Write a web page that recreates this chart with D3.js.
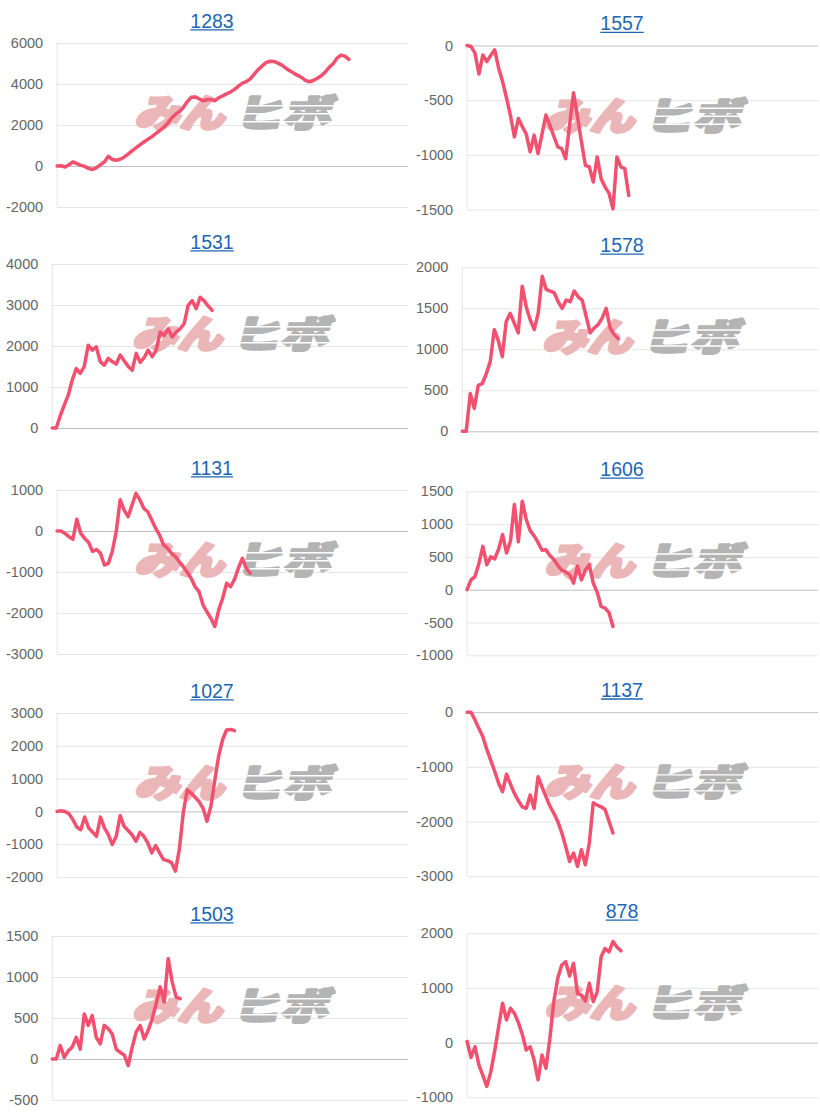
<!DOCTYPE html>
<html>
<head>
<meta charset="utf-8">
<script src="https://cdn.jsdelivr.net/npm/d3@7"></script>
<style>
  body { margin: 0; background: #fff; }
  svg { display: block; font-family: Arial, "Liberation Sans", sans-serif; }
</style>
</head>
<body>
<script>
const width = 820;
const height = 1115;

// Chart titles (strategy ids)
const titles = ['1283', '1557', '1531', '1578', '1131', '1606', '1027', '1137', '1503', '878'];

// Y tick labels per chart
const ticks1283 = [-2000, 0, 2000, 4000, 6000];
const ticks1557 = [-1500, -1000, -500, 0];
const ticks1531 = [0, 1000, 2000, 3000, 4000];
const ticks1578 = [0, 500, 1000, 1500, 2000];
const ticks1131 = [-3000, -2000, -1000, 0, 1000];
const ticks1606 = [-1000, -500, 0, 500, 1000, 1500];
const ticks1027 = [-2000, -1000, 0, 1000, 2000, 3000];
const ticks1137 = [-3000, -2000, -1000, 0];
const ticks1503 = [-500, 0, 500, 1000, 1500];
const ticks878 = [-1000, 0, 1000, 2000];

// Cumulative values, one point per day
const s1283 = [0, 10, -50, 60, 200, 120, 30, -20, -120, -170, -80, 60, 200, 470, 320, 280, 330, 430, 580, 740,
  880, 1030, 1170, 1300, 1420, 1580, 1720, 1880, 2080, 2330, 2520, 2650, 2850, 3130, 3350, 3370, 3280, 3180, 3230, 3250,
  3180, 3330, 3420, 3520, 3610, 3740, 3900, 4040, 4120, 4250, 4480, 4700, 4880, 5040, 5110, 5100, 5020, 4920, 4770, 4650,
  4530, 4420, 4320, 4180, 4110, 4170, 4280, 4400, 4580, 4810, 4990, 5260, 5410, 5360, 5200];
const s1557 = [0, -9, -70, -260, -86, -147, -90, -40, -208, -330, -480, -640, -836, -667, -740, -810, -973, -820, -989, -810,
  -637, -730, -830, -927, -943, -1035, -730, -432, -652, -880, -1096, -1111, -1249, -1019, -1218, -1295, -1350, -1494, -1019, -1111,
  -1127, -1371];
const s1531 = [0, 0, 300, 560, 800, 1170, 1450, 1330, 1500, 2020, 1900, 1980, 1620, 1535, 1700, 1620, 1560, 1780, 1640, 1500,
  1410, 1820, 1600, 1720, 1900, 1740, 1900, 2340, 2260, 2420, 2220, 2340, 2420, 2545, 2990, 3110, 2910, 3190, 3100, 2980,
  2870];
const s1578 = [0, 0, 460, 280, 560, 580, 700, 850, 1240, 1110, 910, 1340, 1440, 1320, 1200, 1770, 1520, 1360, 1240, 1440,
  1890, 1730, 1710, 1690, 1580, 1500, 1600, 1580, 1710, 1640, 1600, 1400, 1200, 1260, 1300, 1380, 1500, 1260, 1180, 1130];
const s1131 = [0, 0, -60, -140, -200, 285, -60, -180, -280, -500, -450, -545, -830, -790, -500, -15, 760, 510, 350, 630,
  920, 760, 550, 470, 270, 65, -100, -340, -420, -545, -625, -750, -870, -1000, -1155, -1360, -1480, -1800, -1970, -2130,
  -2330, -1925, -1640, -1275, -1360, -1180, -900, -665, -910, -1030];
const s1606 = [0, 150, 200, 400, 660, 380, 500, 470, 620, 840, 560, 740, 1300, 730, 1350, 1070, 900, 820, 720, 600,
  610, 520, 460, 370, 300, 270, 230, 100, 360, 150, 300, 380, 100, -40, -255, -280, -350, -560];
const s1027 = [0, 20, 0, -70, -250, -475, -560, -170, -500, -630, -760, -170, -500, -710, -1010, -760, -130, -455, -580, -710,
  -910, -640, -760, -960, -1265, -1040, -1265, -1470, -1500, -1560, -1820, -1165, -50, 660, 560, 430, 300, 100, -300, 150,
  960, 1700, 2200, 2480, 2500, 2460];
const s1137 = [0, 0, -140, -300, -450, -680, -880, -1080, -1300, -1455, -1135, -1315, -1485, -1620, -1730, -1760, -1515, -1760, -1180, -1365,
  -1545, -1715, -1850, -2000, -2200, -2455, -2730, -2575, -2820, -2515, -2790, -2395, -1655, -1700, -1730, -1780, -2000, -2210];
const s1503 = [0, 0, 165, 20, 100, 145, 265, 120, 550, 410, 530, 265, 185, 410, 370, 305, 120, 80, 50, -80,
  145, 330, 410, 245, 350, 490, 675, 880, 695, 1225, 940, 755, 735];
const s878 = [20, -270, -75, -410, -600, -800, -540, -150, 290, 720, 415, 630, 535, 370, 150, -135, -75, -320, -680, -225,
  -470, 80, 750, 1180, 1420, 1480, 1220, 1450, 900, 870, 760, 1085, 750, 930, 1570, 1720, 1660, 1850, 1750, 1680];

// Number of days on the x axis (shared by all charts)
const dayCount = 90;

const tickSets = [ticks1283, ticks1557, ticks1531, ticks1578, ticks1131, ticks1606, ticks1027, ticks1137, ticks1503, ticks878];
const seriesSets = [s1283, s1557, s1531, s1578, s1131, s1606, s1027, s1137, s1503, s878];

// Layout
const colWidth = 410;
const rowTopsLeft = [0, 221, 447, 670, 893];
const rowTopsRight = [2.5, 224.3, 448.3, 669.2, 890.3];
const plotTopOff = 43;
const plotBottomOff = 207;
const plotRightOff = 408;
const lineColor = '#f2506f';
const tickFont = 14.5;

const svg = d3.select('body')
    .append('svg')
    .attr('width', width)
    .attr('height', height);

// measure tick label width
const measurer = svg.append('text').attr('font-size', tickFont);
function textWidth(s) {
    measurer.text(s);
    return measurer.node().getComputedTextLength();
}

titles.forEach((title, i) => {
    const col = i % 2;
    const row = Math.floor(i / 2);
    const x0 = col * colWidth;
    const top = (col ? rowTopsRight : rowTopsLeft)[row];
    const ticks = tickSets[i];
    const values = seriesSets[i];

    const g = svg.append('g');

    const labelW = d3.max(ticks, t => textWidth(String(t)));
    const left = x0 + 6 + labelW + 14;
    const right = x0 + plotRightOff;

    const y = d3.scaleLinear()
        .domain(d3.extent(ticks))
        .range([top + plotBottomOff, top + plotTopOff]);
    const x = d3.scaleLinear()
        .domain([0, dayCount - 1])
        .range([left, right]);

    // Title (link style)
    const tx = x0 + 212;
    const titleText = g.append('text')
        .attr('x', tx)
        .attr('y', top + 27.5)
        .attr('text-anchor', 'middle')
        .attr('font-size', 19.5)
        .attr('fill', '#1c66b2')
        .text(title);
    const tw = titleText.node().getComputedTextLength();
    g.append('line')
        .attr('x1', tx - tw / 2).attr('x2', tx + tw / 2)
        .attr('y1', top + 29.8).attr('y2', top + 29.8)
        .attr('stroke', '#1c66b2')
        .attr('stroke-width', 1.3);

    // Y axis with gridlines
    const axis = g.append('g')
        .attr('transform', `translate(${left},0)`)
        .call(d3.axisLeft(y)
            .tickValues(ticks)
            .tickSize(-(right - left))
            .tickPadding(14)
            .tickFormat(d => String(d)));
    axis.select('.domain').remove();
    axis.selectAll('.tick line')
        .attr('stroke', d => d === 0 ? 'rgba(0,0,0,0.25)' : 'rgba(0,0,0,0.1)')
        .attr('x1', 0);
    axis.selectAll('.tick text')
        .attr('font-size', tickFont)
        .attr('font-family', 'Arial, "Liberation Sans", sans-serif')
        .attr('fill', '#666');
    g.append('line')
        .attr('x1', left).attr('x2', left)
        .attr('y1', top + plotTopOff).attr('y2', top + plotBottomOff)
        .attr('stroke', 'rgba(0,0,0,0.1)');

    // Watermark
    const cx = (left + right) / 2;
    const cy = (top + plotTopOff + top + plotBottomOff) / 2 - 12;
    const wm = g.append('g')
        .attr('transform', `translate(${cx},${cy + 14}) skewX(-14)`)
        .attr('font-family', '"Noto Sans CJK JP", sans-serif')
        .attr('font-weight', 900)
        .attr('font-size', 38)
        .attr('stroke-linejoin', 'round');
    wm.append('text')
        .attr('x', -98).attr('y', 0)
        .attr('textLength', 90)
        .attr('lengthAdjust', 'spacingAndGlyphs')
        .attr('fill', '#ebb6b8')
        .attr('stroke', '#ebb6b8')
        .attr('stroke-width', 3)
        .text('みん');
    wm.append('text')
        .attr('x', 2).attr('y', 0)
        .attr('textLength', 96)
        .attr('lengthAdjust', 'spacingAndGlyphs')
        .attr('fill', '#b4b4b4')
        .attr('stroke', '#b4b4b4')
        .attr('stroke-width', 3)
        .text('ヒボ');
    [-22, -14, -6].forEach(dy => {
        wm.append('rect')
            .attr('x', 2).attr('y', dy)
            .attr('width', 104).attr('height', 1.4)
            .attr('fill', '#fff');
    });

    // Data line
    const line = d3.line()
        .x((d, k) => x(k))
        .y(d => y(d));
    g.append('path')
        .datum(values)
        .attr('d', line)
        .attr('fill', 'none')
        .attr('stroke', lineColor)
        .attr('stroke-width', 3.5)
        .attr('stroke-linejoin', 'round')
        .attr('stroke-linecap', 'round');
});

measurer.remove();
</script>
</body>
</html>
